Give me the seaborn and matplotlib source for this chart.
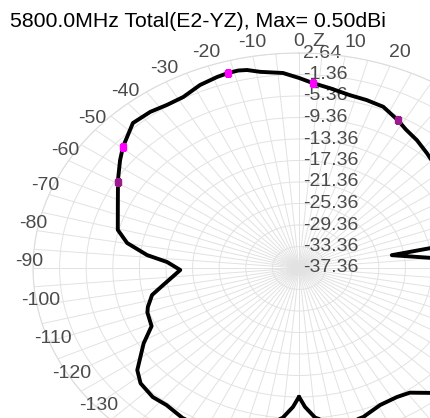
import numpy as np
import pandas as pd
import matplotlib
matplotlib.use("Agg")
import matplotlib.pyplot as plt
from matplotlib.transforms import ScaledTranslation
import seaborn as sns

# Pattern data (angle in deg, clockwise from Z, gain in dBi)
angles = [-180, -178, -175, -170, -165, -160, -155, -148, -142, -137.5, -132, -128,
          -121, -116, -110, -107.7, -105, -102.8, -98.8, -91.2, -86.8, -84, -79.8,
          -75.4, -66.7, -59, -53.3, -49.6, -42.8, -37.6, -33.2, -28.7, -23.6, -19.1,
          -16.4, -14, -12, -9.1, -3.8, 0, 3.5, 8, 13.3, 18, 22.9, 28.4, 32, 36.7, 41.9,
          48, 55, 62, 68, 74, 77, 79.4, 80.3, 84.6, 88, 95, 105, 115, 125, 133, 139.5,
          144.3, 148.5, 154.4, 160.8, 166, 171, 175, 178, 180]
gain = [-13.4, -11.5, -9.4, -7.5, -6.0, -5.2, -4.7, -4.4, -5.0, -4.8, -5.3, -6.5,
        -10.1, -12.7, -13.1, -13.5, -14.2, -14.7, -16.7, -19.5, -17.5, -14.4, -11.1,
        -9.2, -7.7, -5.6, -3.8, -2.6, -0.6, -0.7, -1.1, -1.1, -0.2, 0.25,
        0.45, 0.5, 0.3, -0.4, -1.0, -2.0, -2.9, -3.6, -4.3, -4.5, -4.8, -6.1, -7.0, -7.7, -8.6,
        -9.5, -10.0, -10.5, -12.0, -14.5, -15.5, -17.2, -23.2, -17.4, -14.0, -11.0, -9.0, -8.0, -7.0, -6.5, -6.8,
        -8.8, -9.2, -9.1, -8.0, -7.6, -8.3, -9.4, -11.5, -13.4]

marker_angles = [-16.4, 3.5, 28.4, -49.6, -59.5]
marker_gain = [0.45, -2.9, -6.1, -2.6, -5.8]
marker_colors = ["#ff00ff", "#ff00ff", "#9b1b8f", "#ff00ff", "#9b1b8f"]

r_ticks = [2.64, -1.36, -5.36, -9.36, -13.36, -17.36, -21.36, -25.36, -29.36, -33.36, -37.36]
theta_labels = list(range(-130, 30, 10))
title = "5800.0MHz Total(E2-YZ), Max= 0.50dBi"

R_MIN, R_MAX = -37.36, 2.64

sns.set_theme(style="white")
plt.rcParams["font.family"] = ["Liberation Sans", "DejaVu Sans"]

df = pd.DataFrame({"theta": np.deg2rad(angles), "gain": gain})

fig = plt.figure(figsize=(4.31, 4.18), dpi=100)
ax = fig.add_axes([33 / 431, -65 / 418, 532 / 431, 430 / 418], projection="polar")
ax.set_aspect("auto")
ax.set_theta_zero_location("N")
ax.set_theta_direction(-1)
ax.set_ylim(R_MIN, R_MAX)

ax.set_xticks(np.deg2rad(np.arange(0, 360, 5)))
ax.set_yticks(r_ticks)
ax.tick_params(labelbottom=False, labelleft=False, length=0)
ax.grid(True, color="#e2e2e2", lw=0.7)
ax.spines["polar"].set_color("#dcdcdc")
ax.spines["polar"].set_linewidth(0.8)

# radial labels along the 0 deg line
for v in r_ticks:
    ax.text(0, v, f"{v:.2f}", ha="left", va="center", fontsize=14, color="#4a4a4a",
            transform=ax.transData + ScaledTranslation(4 / 100, 0, fig.dpi_scale_trans),
            zorder=2)

# angular labels
for a in theta_labels:
    t = np.deg2rad(a)
    dy = 6 + 8 * np.cos(t)
    if a == 0:
        dy = 11
    if a > 0:
        dx = 10
    else:
        dx = 4 * np.sin(t) * (1 if np.cos(t) >= -1e-9 else -1)
    ax.text(t, R_MAX, str(a), ha="center", va="center", fontsize=14, color="#4a4a4a",
            transform=ax.transData + ScaledTranslation(dx / 100, dy / 100, fig.dpi_scale_trans),
            clip_on=False)
ax.text(0, R_MAX, "Z", ha="center", va="center", fontsize=14, color="#4a4a4a",
        transform=ax.transData + ScaledTranslation(19 / 100, 11 / 100, fig.dpi_scale_trans),
        clip_on=False)

sns.lineplot(data=df, x="theta", y="gain", sort=False, estimator=None, ax=ax,
             color="black", lw=2.8, zorder=3)
for a, g, c in zip(marker_angles, marker_gain, marker_colors):
    ax.plot(np.deg2rad(a), g, "s", color=c, ms=5, mec=c, zorder=4)
ax.set_xlabel("")
ax.set_ylabel("")

fig.text(10 / 431, 1 - 27 / 418, title, ha="left", va="baseline", fontsize=15.3, color="black")

fig.savefig("out.png", dpi=100)
